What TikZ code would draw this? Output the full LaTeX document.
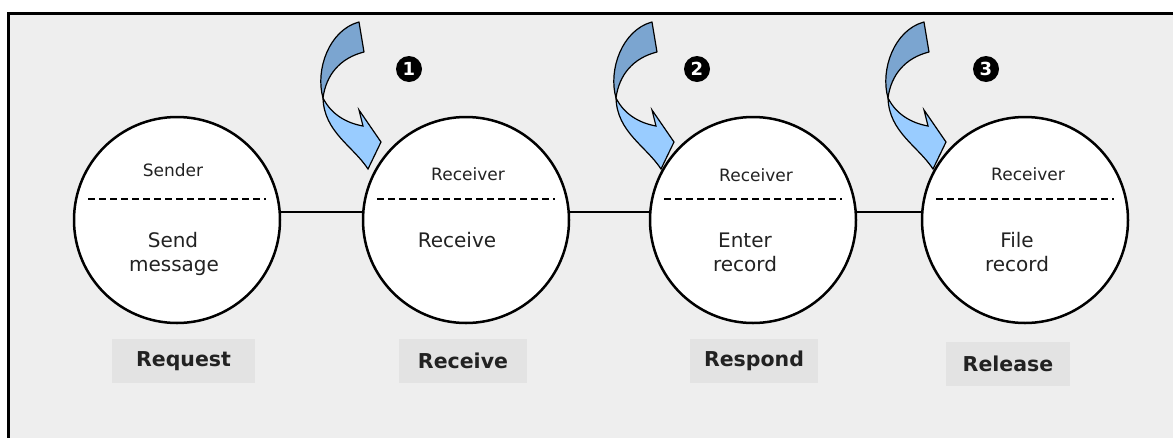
\documentclass[tikz,border=0pt]{standalone}
\usepackage{fontspec}
\setmainfont{DejaVu Sans}
\definecolor{bggray}{HTML}{EEEEEE}
\definecolor{boxgray}{HTML}{E3E3E3}
\definecolor{arrdark}{HTML}{7BA5D0}
\definecolor{arrlight}{HTML}{99CCFF}
\definecolor{textgray}{HTML}{222222}
\begin{document}
\begin{tikzpicture}[x=1pt,y=-1pt,
  stage/.style={circle,draw,line width=2.5pt,fill=white,minimum size=206pt,inner sep=0pt},
  role/.style={font=\fontsize{17}{20}\selectfont,anchor=base,text=textgray,inner sep=0pt},
  act/.style={font=\fontsize{20}{24}\selectfont,anchor=base,text=textgray,inner sep=0pt},
  phase/.style={fill=boxgray,font=\bfseries\fontsize{20.5}{24}\selectfont,text=textgray,inner sep=0pt,minimum height=44pt},
  num/.style={circle,fill=black,text=white,inner sep=0pt,minimum size=26pt,font=\bfseries\fontsize{18}{20}\selectfont},
  link/.style={line width=1.5pt},
  divider/.style={line width=2pt,dash pattern=on 7pt off 4pt},
  back/.style={fill=arrdark,draw=black,line width=1.2pt,line join=round},
  front/.style={fill=arrlight,draw=black,line width=1.2pt,line join=miter}
]
\useasboundingbox (0,0) rectangle (1173,437);
\clip (0,0) rectangle (1173,437);
\fill[white] (0,0) rectangle (1173,437);
\draw[fill=bggray,line width=3pt] (8.5,13.5) rectangle (1200,470);

% circles
\node[stage] (c1) at (177,220) {};
\node[stage] (c2) at (466,220) {};
\node[stage] (c3) at (753,220) {};
\node[stage] (c4) at (1025,220) {};

% connectors
\draw[link] ([yshift=8pt]c1.east) -- ([yshift=8pt]c2.west);
\draw[link] ([yshift=8pt]c2.east) -- ([yshift=8pt]c3.west);
\draw[link] ([yshift=8pt]c3.east) -- ([yshift=8pt]c4.west);

% dividers
\foreach \c in {c1,c2,c3,c4}{
  \draw[divider] ([xshift=-89pt,yshift=21pt]\c.center) -- ([xshift=89pt,yshift=21pt]\c.center);
}

% texts
\node[role] (r1) at (173,176) {Sender};
\node[act] (a1a) at (173,247) {Send};
\node[act] (a1b) at (174,271) {message};

\node[role] (r2) at (468,180) {Receiver};
\node[act] (a2a) at (457,247) {Receive};

\node[role] (r3) at (756,181) {Receiver};
\node[act] (a3a) at (745,247) {Enter};
\node[act] (a3b) at (745,271) {record};

\node[role] (r4) at (1028,180) {Receiver};
\node[act] (a4a) at (1017,247) {File};
\node[act] (a4b) at (1017,271) {record};

% curved arrows
\foreach \dx in {0,293,565}{
  \begin{scope}[xshift=\dx pt]
    \draw[back] (359,22) .. controls (329,30) and (315,70) .. (323,98)
      .. controls (326,75) and (340,58) .. (364,52) -- cycle;
    \draw[front] (323,98) .. controls (331,114) and (346,123) .. (363,126)
      -- (359,110) -- (381,142) -- (368,169)
      .. controls (353,146) and (324,132) .. (323,98) -- cycle;
  \end{scope}
}

% numbers
\node[num] (n1) at (409,69) {1};
\node[num] (n2) at (697,69) {2};
\node[num] (n3) at (986,69) {3};

% phase labels
\node[phase,minimum width=143pt] (p1) at (183.5,361) {Request};
\node[phase,minimum width=128pt] (p2) at (463,361) {Receive};
\node[phase,minimum width=128pt] (p3) at (754,361) {Respond};
\node[phase,minimum width=124pt] (p4) at (1008,364) {Release};
\end{tikzpicture}
\end{document}
